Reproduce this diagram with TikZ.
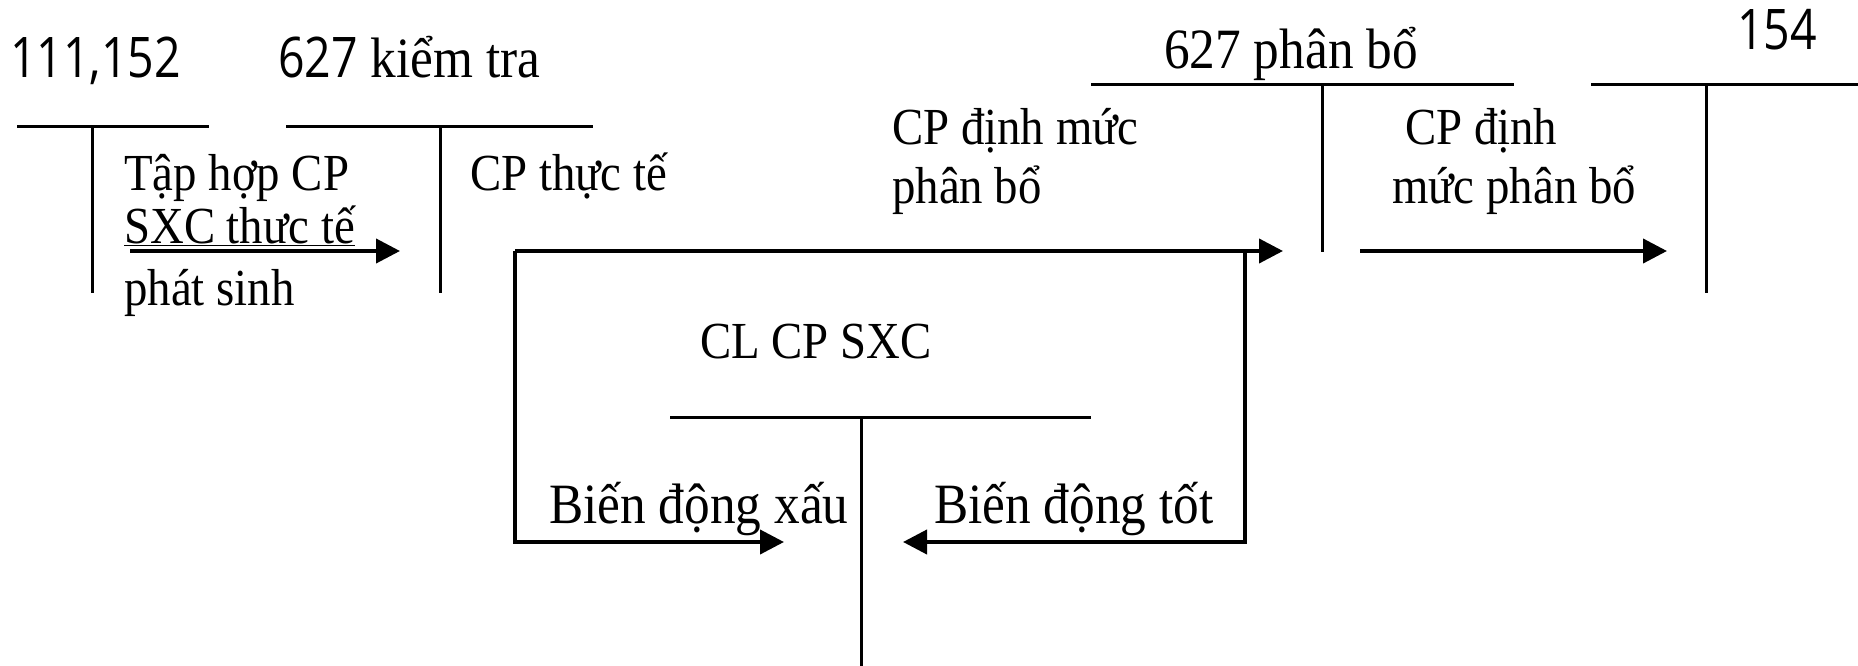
\documentclass[tikz,border=0pt]{standalone}
\usepackage{fontspec}
\setmainfont{Liberation Serif}[FakeStretch=0.9]
\newfontfamily\sansf{Open Sans}[FakeStretch=0.83]
\usetikzlibrary{arrows.meta}
\newcommand{\bigsans}{\sansf\fontsize{56}{62}\selectfont}
\tikzset{
  lbl/.style={inner sep=0pt, anchor=base west, font=\fontsize{52}{58}\selectfont},
  biglbl/.style={inner sep=0pt, anchor=base west, font=\fontsize{57}{62}\selectfont},
  slbl/.style={inner sep=0pt, anchor=base west, font=\bigsans},
  tline/.style={line width=3pt},
  arr/.style={line width=4pt, -{Triangle[length=24pt,width=24pt]}},
}
\begin{document}
\begin{tikzpicture}[x=1pt,y=-1pt]
\useasboundingbox (0,0) rectangle (1858,666);
% account titles
\node[slbl] (t111) at (10,78) {111,152};
\node[biglbl] (t627k) at (278,78) {{\bigsans 627} kiểm tra};
\node[biglbl] (t627p) at (1164,69) {627 phân bổ};
\node[slbl] (t154) at (1737,50) {154};
\node[lbl] (tcl) at (700,358) {CL CP SXC};
% T accounts
\coordinate (a1l) at (17,127); \coordinate (a1r) at (209,127);
\coordinate (a1t) at (92,127); \coordinate (a1b) at (92,293);
\draw[tline] (a1l) -- (a1r); \draw[tline] (a1t) -- (a1b);
\coordinate (a2l) at (286,127); \coordinate (a2r) at (593,127);
\coordinate (a2t) at (440,127); \coordinate (a2b) at (440,293);
\draw[tline] (a2l) -- (a2r); \draw[tline] (a2t) -- (a2b);
\coordinate (a3l) at (1091,85); \coordinate (a3r) at (1514,85);
\coordinate (a3t) at (1322,85); \coordinate (a3b) at (1322,252);
\draw[tline] (a3l) -- (a3r); \draw[tline] (a3t) -- (a3b);
\coordinate (a4l) at (1591,85); \coordinate (a4r) at (1858,85);
\coordinate (a4t) at (1706,85); \coordinate (a4b) at (1706,293);
\draw[tline] (a4l) -- (a4r); \draw[tline] (a4t) -- (a4b);
\coordinate (a5l) at (670,417); \coordinate (a5r) at (1091,417);
\coordinate (a5t) at (861,417); \coordinate (a5b) at (861,666);
\draw[tline] (a5l) -- (a5r); \draw[tline] (a5t) -- (a5b);
% labels
\node[lbl] (l1a) at (124,190) {Tập hợp CP};
\node[lbl] (l1b) at (124,243) {\underline{SXC thưc tế}};
\node[lbl] (l1c) at (124,305) {phát sinh};
\node[lbl] (l2) at (470,190) {CP thực tế};
\node[lbl] (l3a) at (892,145) {CP định mức};
\node[lbl] (l3b) at (892,204) {phân bổ};
\node[lbl] (l4a) at (1405,145) {CP định};
\node[lbl] (l4b) at (1392,204) {mức phân bổ};
\node[biglbl] (l5) at (549,523) {Biến động xấu};
\node[biglbl] (l6) at (934,523) {Biến động tốt};
% arrows
\coordinate (e1s) at (130,251); \coordinate (e1e) at (400,251);
\draw[arr] (e1s) -- (e1e);
\coordinate (bl) at (515,251); \coordinate (btip) at (1283,251);
\coordinate (bxtip) at (784,542);
\draw[arr] (bl) -- (btip);
\draw[arr] (bl) |- (bxtip);
\coordinate (br) at (1245,251); \coordinate (bttip) at (903,542);
\draw[arr] (br) |- (bttip);
\coordinate (e4s) at (1360,251); \coordinate (e4e) at (1667,251);
\draw[arr] (e4s) -- (e4e);
\end{tikzpicture}
\end{document}
